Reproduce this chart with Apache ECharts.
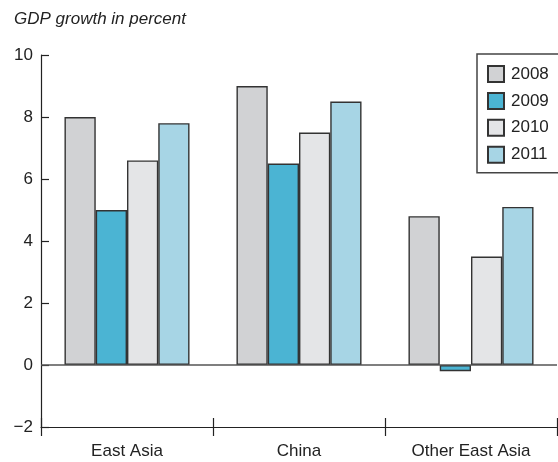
<!DOCTYPE html>
<html>
<head>
<meta charset="utf-8">
<style>
  html, body { margin: 0; padding: 0; background: #fff; }
  #chart { width: 558px; height: 462px; }
</style>
<script src="https://cdn.jsdelivr.net/npm/echarts@6/dist/echarts.min.js"></script>
</head>
<body>
<div id="chart"></div>
<script>
// Regions and years
const regions = ['East Asia', 'China', 'Other East Asia'];
const years = ['2008', '2009', '2010', '2011'];

// GDP growth (percent) per region, one array per year
const growth2008 = [8.0, 9.0, 4.8];
const growth2009 = [5.0, 6.5, -0.2];
const growth2010 = [6.6, 7.5, 3.5];
const growth2011 = [7.8, 8.5, 5.1];

// Value axis ticks
const yMin = -2;
const yMax = 10;
const yStep = 2;

const seriesValues = [growth2008, growth2009, growth2010, growth2011];
const colors = ['#d1d2d4', '#4bb4d3', '#e4e5e7', '#a7d5e5'];
const font = '"Liberation Sans", Arial, sans-serif';
const ink = '#222';

const chart = echarts.init(document.getElementById('chart'), null, { renderer: 'canvas' });

const series = years.map((y, i) => {
  const s = {
    name: y,
    type: 'bar',
    data: seriesValues[i],
    barGap: '0%',
    barCategoryGap: '27.3%',
    itemStyle: { color: colors[i], borderColor: '#333', borderWidth: 1.4 },
    emphasis: { disabled: true },
    animation: false
  };
  if (i === 0) {
    // Horizontal baseline at zero
    s.markLine = {
      silent: true,
      symbol: 'none',
      label: { show: false },
      lineStyle: { color: '#555', width: 1.5, type: 'solid' },
      data: [{ yAxis: 0 }],
      animation: false
    };
  }
  return s;
});

chart.setOption({
  animation: false,
  title: {
    text: 'GDP growth in percent',
    left: 9,
    top: 6,
    textStyle: { fontFamily: font, fontSize: 17, fontStyle: 'italic', fontWeight: 'normal', color: ink }
  },
  legend: {
    orient: 'vertical',
    left: 477,
    top: 54,
    padding: [11, 20, 9, 10],
    itemWidth: 16,
    itemHeight: 16,
    itemGap: 8.9,
    icon: 'rect',
    borderColor: '#444',
    borderWidth: 1.5,
    data: years,
    textStyle: { fontFamily: font, fontSize: 17, lineHeight: 16, color: ink, padding: [0, 0, 0, 2] }
  },
  grid: { left: 41, right: 1, top: 55, bottom: 35, containLabel: false },
  xAxis: [
    {
      type: 'category',
      data: regions,
      position: 'bottom',
      axisLine: { onZero: false, lineStyle: { color: ink, width: 1.2 } },
      axisTick: { show: true, alignWithLabel: false, length: 9, lineStyle: { color: ink, width: 1.2 } },
      axisLabel: { margin: 16, fontFamily: font, fontSize: 17, color: ink }
    },
    {
      type: 'category',
      data: regions,
      position: 'bottom',
      offset: 0,
      axisLine: { show: false, onZero: false },
      axisTick: { show: true, inside: true, alignWithLabel: false, length: 9, lineStyle: { color: ink, width: 1.2 } },
      axisLabel: { show: false }
    }
  ],
  yAxis: {
    type: 'value',
    min: yMin,
    max: yMax,
    interval: yStep,
    axisLine: { show: true, lineStyle: { color: ink, width: 1.2 } },
    axisTick: { show: true, inside: true, length: 8, lineStyle: { color: ink, width: 1.2 } },
    splitLine: { show: false },
    axisLabel: {
      margin: 8,
      fontFamily: font,
      fontSize: 17,
      color: ink,
      formatter: v => (v < 0 ? '\u2212' + Math.abs(v) : String(v))
    }
  },
  series: series
});
</script>
</body>
</html>
